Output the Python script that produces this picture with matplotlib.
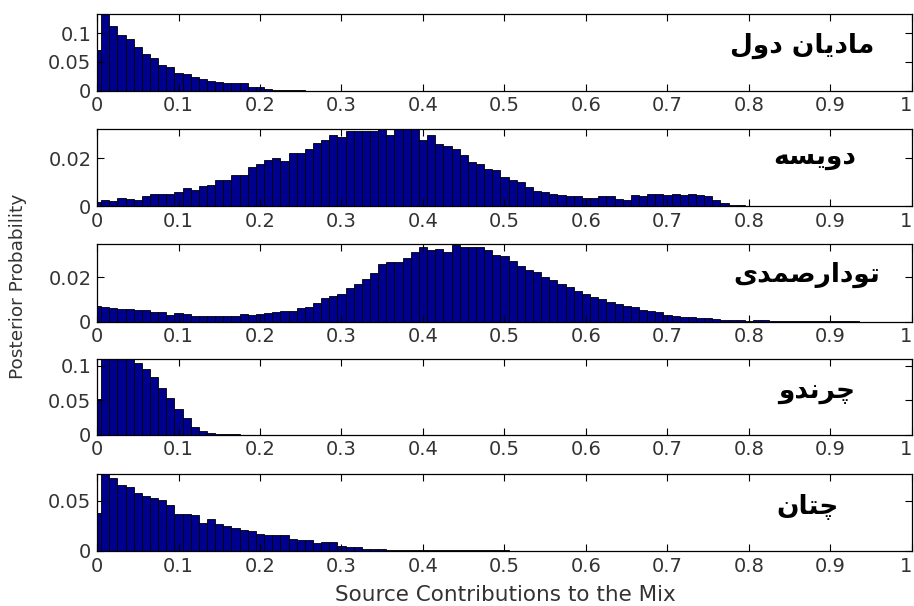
import numpy as np
import matplotlib
matplotlib.use('Agg')
import matplotlib.pyplot as plt

# bar heights, one bar per 0.01 step starting at 0
madian_dol = [0.071, 0.150, 0.113, 0.097, 0.089, 0.075, 0.064, 0.056, 0.045, 0.041,
              0.031, 0.029, 0.023, 0.020, 0.017, 0.0155, 0.0127, 0.0127, 0.0127, 0.0069,
              0.0058, 0.0023, 0.0010, 0.0005, 0.0004, 0.0004, 0.0003, 0.0003, 0.0002]

dovise = [0.0016, 0.0024, 0.0021, 0.0035, 0.0031, 0.0026, 0.0041, 0.0050, 0.0050, 0.0050,
          0.0057, 0.0077, 0.0067, 0.0082, 0.0089, 0.0108, 0.0108, 0.0128, 0.0128, 0.0163,
          0.0177, 0.0191, 0.0203, 0.0189, 0.0223, 0.0223, 0.0238, 0.0264, 0.0278, 0.0298,
          0.0291, 0.0316, 0.0316, 0.0316, 0.0316, 0.0330, 0.0298, 0.0340, 0.0340, 0.0340,
          0.0278, 0.0298, 0.0260, 0.0252, 0.0238, 0.0213, 0.0184, 0.0177, 0.0155, 0.0150,
          0.0120, 0.0110, 0.0099, 0.0078, 0.0064, 0.0057, 0.0050, 0.0047, 0.0043, 0.0040,
          0.0035, 0.0035, 0.0040, 0.0040, 0.0031, 0.0026, 0.0045, 0.0040, 0.0052, 0.0052,
          0.0045, 0.0052, 0.0047, 0.0052, 0.0045, 0.0040, 0.0026, 0.0011, 0.0003, 0.0003,
          0.0002]

toudar_samadi = [0.0071, 0.0068, 0.0060, 0.0057, 0.0057, 0.0051, 0.0051, 0.0045, 0.0042, 0.0030,
                 0.0038, 0.0035, 0.0027, 0.0027, 0.0027, 0.0027, 0.0027, 0.0027, 0.0035, 0.0030,
                 0.0035, 0.0038, 0.0045, 0.0050, 0.0050, 0.0063, 0.0068, 0.0086, 0.0105, 0.0116,
                 0.0123, 0.0150, 0.0168, 0.0191, 0.0221, 0.0258, 0.0270, 0.0270, 0.0285, 0.0315,
                 0.0335, 0.0323, 0.0327, 0.0315, 0.0345, 0.0335, 0.0335, 0.0335, 0.0323, 0.0300,
                 0.0297, 0.0275, 0.0252, 0.0233, 0.0222, 0.0200, 0.0188, 0.0170, 0.0155, 0.0140,
                 0.0125, 0.0110, 0.0102, 0.0087, 0.0080, 0.0072, 0.0065, 0.0053, 0.0047, 0.0042,
                 0.0032, 0.0027, 0.0023, 0.0020, 0.0017, 0.0015, 0.0012, 0.0009, 0.0008, 0.0008,
                 0.0005, 0.0009, 0.0008, 0.0003, 0.0002, 0.0002, 0.0002, 0.0002, 0.0002, 0.0002,
                 0.0002, 0.0002, 0.0002, 0.0002]

charandu = [0.052, 0.125, 0.130, 0.128, 0.118, 0.104, 0.0956, 0.0836, 0.0676, 0.053,
            0.0377, 0.0242, 0.0111, 0.0048, 0.0019, 0.0014, 0.0014, 0.0014]

chetan = [0.038, 0.080, 0.0727, 0.066, 0.0643, 0.0583, 0.055, 0.0527, 0.0507, 0.0457,
          0.0373, 0.0373, 0.0357, 0.0277, 0.0317, 0.0267, 0.025, 0.0233, 0.0207, 0.020,
          0.0173, 0.0157, 0.0157, 0.0157, 0.0123, 0.011, 0.011, 0.0077, 0.009, 0.009,
          0.005, 0.0043, 0.004, 0.0023, 0.0023, 0.0023, 0.001, 0.001, 0.001, 0.001,
          0.001, 0.001, 0.001, 0.001, 0.0007, 0.0007, 0.0007, 0.0007, 0.0007, 0.0007, 0.0013]

names = ['مادیان دول', 'دویسه', 'تودارصمدی', 'چرندو', 'چتان']
series = [madian_dol, dovise, toudar_samadi, charandu, chetan]
y_tops = [0.133, 0.0323, 0.035, 0.1106, 0.077]
y_ticks = [[0, 0.05, 0.1], [0, 0.02], [0, 0.02], [0, 0.05, 0.1], [0, 0.05]]
x_ticks = [0, 0.1, 0.2, 0.3, 0.4, 0.5, 0.6, 0.7, 0.8, 0.9, 1]
x_labels = ['0', '0.1', '0.2', '0.3', '0.4', '0.5', '0.6', '0.7', '0.8', '0.9', '1']

# matplotlib has no arabic shaping, so pick the joined glyph forms by hand
# (isolated, final, initial, medial); None means the letter never joins forward
FORMS = {
    'ا': ('\uFE8D', '\uFE8E', None, None),
    'د': ('\uFEA9', '\uFEAA', None, None),
    'ر': ('\uFEAD', '\uFEAE', None, None),
    'و': ('\uFEED', '\uFEEE', None, None),
    'م': ('\uFEE1', '\uFEE2', '\uFEE3', '\uFEE4'),
    'ن': ('\uFEE5', '\uFEE6', '\uFEE7', '\uFEE8'),
    'ل': ('\uFEDD', '\uFEDE', '\uFEDF', '\uFEE0'),
    'ه': ('\uFEE9', '\uFEEA', '\uFEEB', '\uFEEC'),
    'س': ('\uFEB1', '\uFEB2', '\uFEB3', '\uFEB4'),
    'ت': ('\uFE95', '\uFE96', '\uFE97', '\uFE98'),
    'ص': ('\uFEB9', '\uFEBA', '\uFEBB', '\uFEBC'),
    'ی': ('\uFBFC', '\uFBFD', '\uFBFE', '\uFBFF'),
    'چ': ('\uFB7A', '\uFB7B', '\uFB7C', '\uFB7D'),
}


def shape(text):
    out = []
    for i, ch in enumerate(text):
        if ch not in FORMS:
            out.append(ch)
            continue
        prev = text[i - 1] if i > 0 else ''
        nxt = text[i + 1] if i < len(text) - 1 else ''
        joins_prev = prev in FORMS and FORMS[prev][2] is not None
        joins_next = nxt in FORMS and FORMS[ch][2] is not None
        iso, fin, ini, med = FORMS[ch]
        if joins_prev and joins_next:
            out.append(med)
        elif joins_prev:
            out.append(fin)
        elif joins_next:
            out.append(ini)
        else:
            out.append(iso)
    return ''.join(reversed(out))


plt.rcParams['font.family'] = ['DejaVu Sans']

fig = plt.figure(figsize=(9.14, 6.06), dpi=100)

# panel boxes in pixels from the top: (top, bottom)
boxes = [(14, 90.7), (129, 206), (244, 321.7), (358.7, 434.7), (474, 551)]
name_pos = [(0.865, 0.59), (0.881, 0.64), (0.871, 0.60), (0.883, 0.56), (0.872, 0.57)]
left = 97 / 914
width = (912 - 97) / 914

for i in range(5):
    top, bottom = boxes[i]
    ax = fig.add_axes([left, 1 - bottom / 606, width, (bottom - top) / 606])
    values = series[i]
    centers = np.arange(len(values)) * 0.01
    ax.bar(centers, values, width=0.01, color='#00008f', edgecolor='black', linewidth=0.6)
    ax.set_xlim(0, 1)
    ax.set_ylim(0, y_tops[i])
    ax.set_xticks(x_ticks)
    ax.set_xticklabels(x_labels)
    # last label would hang off the right edge
    ax.get_xticklabels()[-1].set_horizontalalignment('right')
    ax.set_yticks(y_ticks[i])
    ax.set_yticklabels(['0' if t == 0 else ('%g' % t) for t in y_ticks[i]])
    ax.tick_params(direction='in', top=True, right=True, length=5, width=0.8,
                   labelsize=14, labelcolor='#333333', pad=4)
    for s in ax.spines.values():
        s.set_linewidth(0.9)
    ax.text(name_pos[i][0], name_pos[i][1], shape(names[i]), transform=ax.transAxes,
            ha='center', va='center', fontsize=19, fontweight='bold', color='black')

fig.text(505 / 914, 1 - 595 / 606, 'Source Contributions to the Mix', ha='center', va='center',
         fontsize=15.5, color='#333333')
fig.text(18 / 914, 1 - 286 / 606, 'Posterior Probability', ha='center', va='center',
         rotation=90, fontsize=13.3, color='#333333')

plt.savefig('out.png', dpi=100)
